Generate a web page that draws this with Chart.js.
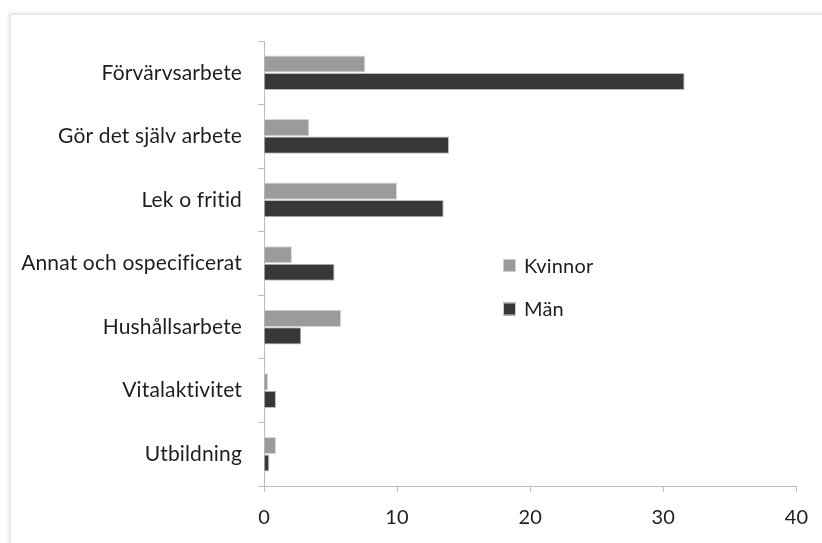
<!DOCTYPE html>
<html lang="sv">
<head>
<meta charset="utf-8">
<title>Tidsanvändning – Kvinnor och Män</title>
<script src="https://cdn.jsdelivr.net/npm/chart.js@4"></script>
<style>
  html, body { margin: 0; padding: 0; background: #fff; overflow: hidden; }
  #wrap { position: relative; width: 822px; height: 543px; }
  #frame {
    position: absolute; left: 10px; top: 14px; width: 900px; height: 700px;
    border-top: 1px solid #e4e4e4; border-left: 1px solid #e4e4e4;
    box-shadow: -1px -1px 4px rgba(0,0,0,0.12);
  }
  canvas { position: absolute; left: 0; top: 0; }
</style>
</head>
<body>
<div id="wrap">
  <div id="frame"></div>
  <canvas id="chart" width="822" height="543"></canvas>
</div>
<script>
// Activities (top to bottom)
const categories = [
  "Förvärvsarbete",
  "Gör det själv arbete",
  "Lek o fritid",
  "Annat och ospecificerat",
  "Hushållsarbete",
  "Vitalaktivitet",
  "Utbildning"
];

// Values per group
const kvinnor = [7.6, 3.4, 10.0, 2.1, 5.8, 0.3, 0.9];
const man     = [31.6, 13.9, 13.5, 5.3, 2.8, 0.9, 0.4];

const seriesNames = ["Kvinnor", "Män"];
const xTicks = [0, 10, 20, 30, 40];

const FONT = "Lato, 'Open Sans', sans-serif";
const AXIS_GREY = "#bdbdbd";
const TEXT = "#1e1e1e";

// A touch of letter spacing keeps "ti" from joining into a ligature
const textSpacing = {
  id: "textSpacing",
  beforeDraw(chart) {
    if ("letterSpacing" in chart.ctx) chart.ctx.letterSpacing = "0.15px";
  }
};

// Legend drawn inside the plot, to the right of the short bars
const innerLegend = {
  id: "innerLegend",
  afterDraw(chart) {
    const ctx = chart.ctx;
    const x0 = 503, y0 = 259, rowGap = 43.5, box = 13;
    ctx.save();
    ctx.font = "20px " + FONT;
    ctx.textBaseline = "middle";
    chart.data.datasets.forEach((ds, i) => {
      const y = y0 + i * rowGap;
      ctx.fillStyle = ds.backgroundColor;
      ctx.fillRect(x0, y, box, box);
      ctx.strokeStyle = "#cfcfcf";
      ctx.lineWidth = 1;
      ctx.strokeRect(x0 + 0.5, y + 0.5, box - 1, box - 1);
      ctx.fillStyle = TEXT;
      ctx.fillText(ds.label, x0 + 21, y + box / 2 + 1);
    });
    ctx.restore();
  }
};

new Chart(document.getElementById("chart"), {
  type: "bar",
  data: {
    labels: categories,
    datasets: [
      {
        label: seriesNames[0],
        data: kvinnor,
        backgroundColor: "#9b9b9b",
        borderColor: "#d6d6d6",
        borderWidth: 1
      },
      {
        label: seriesNames[1],
        data: man,
        backgroundColor: "#383838",
        borderColor: "#bcbcbc",
        borderWidth: 1
      }
    ]
  },
  options: {
    indexAxis: "y",
    responsive: false,
    animation: false,
    devicePixelRatio: 1,
    layout: { padding: { left: 0, top: 41, right: 25, bottom: 0 } },
    datasets: {
      bar: { categoryPercentage: 0.55, barPercentage: 0.98 }
    },
    plugins: {
      legend: { display: false },
      tooltip: { enabled: false }
    },
    scales: {
      x: {
        min: 0,
        max: 40,
        afterBuildTicks(scale) {
          scale.ticks = xTicks.map(v => ({ value: v }));
        },
        afterFit(scale) { scale.height = 57; },
        grid: {
          drawOnChartArea: false,
          drawTicks: true,
          tickLength: 6,
          color: AXIS_GREY
        },
        border: { display: true, color: AXIS_GREY, width: 1 },
        ticks: {
          color: TEXT,
          padding: 14,
          font: { family: FONT, size: 20 }
        }
      },
      y: {
        afterFit(scale) { scale.width = 264; },
        grid: {
          offset: true,
          drawOnChartArea: false,
          drawTicks: true,
          tickLength: 6,
          color: AXIS_GREY
        },
        border: { display: true, color: AXIS_GREY, width: 1 },
        ticks: {
          color: TEXT,
          padding: 16,
          font: { family: FONT, size: 21 }
        }
      }
    }
  },
  plugins: [textSpacing, innerLegend]
});
</script>
</body>
</html>
